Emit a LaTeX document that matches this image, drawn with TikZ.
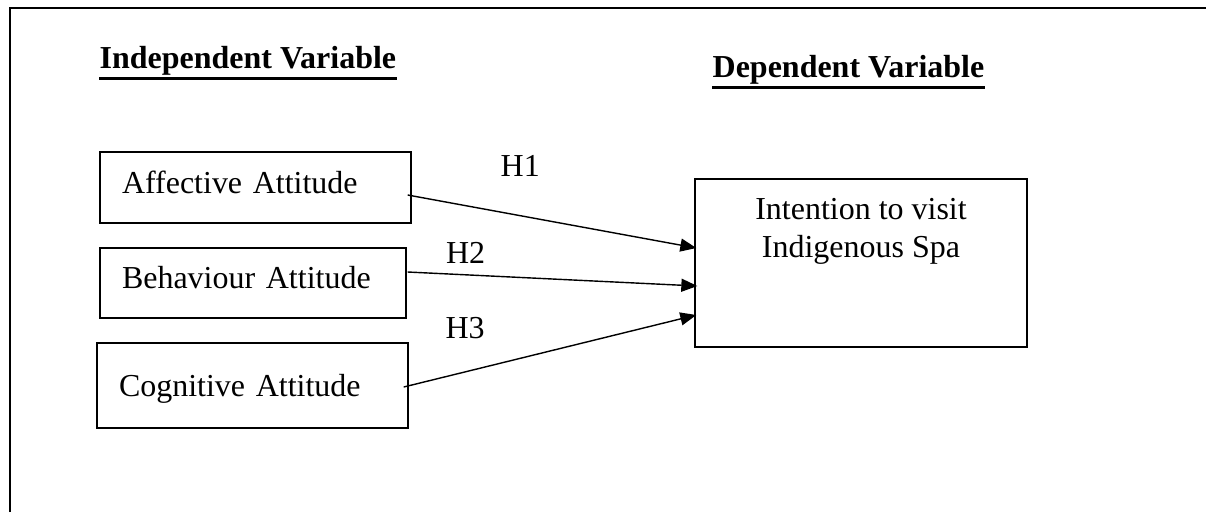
\documentclass[tikz,border=0pt]{standalone}
\usepackage{fontspec}
\setmainfont{Liberation Serif}
\usetikzlibrary{arrows.meta,calc,positioning}

\begin{document}
\begin{tikzpicture}[x=0.02cm,y=-0.02cm,line width=0.8pt,>={Triangle[length=0.32cm,width=0.26cm]},
  header/.style={font=\fontsize{18.2}{21.6}\selectfont\bfseries,inner sep=0pt,anchor=base west},
  var node/.style={draw,rectangle,font=\fontsize{18.2}{21.6}\selectfont,inner xsep=0.44cm,inner ysep=0pt,text height=0.44cm},
  hyp/.style={font=\fontsize{18.2}{21.6}\selectfont,inner sep=0pt}]

  \useasboundingbox (0,0) rectangle (1206,512);
  \draw[line width=1.1pt] (10,512) -- (10,8) -- (1206,8);

  \node[header] (indep) at (99,68) {Independent Variable};
  \node[header] (dep) at (712,77) {Dependent Variable};
  \draw[line width=1.4pt] ($(indep.south west)+(0,3)$) -- ($(indep.south east)+(0,3)$);
  \draw[line width=1.4pt] ($(dep.south west)+(0,3)$) -- ($(dep.south east)+(0,3)$);

  \node[var node,text width=5.34cm,minimum height=1.42cm,text depth=0.22cm] (aff) at (255.5,187.5) {Affective Attitude};
  \node[var node,text width=5.24cm,minimum height=1.4cm,text depth=0.24cm] (beh) at (253,283) {Behaviour Attitude};
  \node[var node,text width=5.34cm,minimum height=1.7cm,text depth=0cm] (cog) at (252.5,385.5) {Cognitive Attitude};

  \node[draw,rectangle,inner sep=0pt,minimum width=6.64cm,minimum height=3.36cm] (int) at (861,263) {};
  \node[hyp,align=center,below=0.38cm of int.north] (inttext) {Intention to visit\\Indigenous Spa};

  \path
    ($(aff.east)+(-4,7.5)$) edge[->] node[hyp,pos=0.39,above=0.77cm] {H1} ($(int.west)+(2,-15)$)
    ($(beh.east)+(1,-11)$) edge[->] node[hyp,pos=0.2,above=0.22cm] {H2} ($(int.west)+(3,23)$)
    ($(cog.east)+(-5,1.5)$) edge[->] node[hyp,pos=0.21,above=0.64cm] {H3} ($(int.west)+(2,52)$);
\end{tikzpicture}
\end{document}
